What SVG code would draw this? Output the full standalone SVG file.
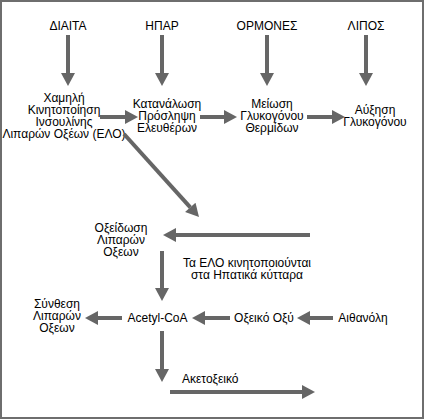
<svg xmlns="http://www.w3.org/2000/svg" width="425" height="420" viewBox="0 0 425 420">
<style>
text{font-family:"Liberation Sans",Arial,sans-serif;font-size:12px;fill:#000;text-anchor:middle}
.l{text-anchor:start}
.c line{stroke:#666;stroke-width:4;marker-end:url(#ah)}
</style>
<defs>
<marker id="ah" markerUnits="userSpaceOnUse" markerWidth="14" markerHeight="14" viewBox="0 0 13 14" refX="0" refY="7" orient="auto">
<path d="M0,0 L13,7 L0,14 z" fill="#666"/>
</marker>
</defs>
<rect x="1" y="1" width="422" height="417" fill="#fff" stroke="#6e6e6e" stroke-width="2"/>
<g id="diaita"><text x="68" y="30">ΔΙΑΙΤΑ</text></g>
<g id="ipar"><text x="162" y="30">ΗΠΑΡ</text></g>
<g id="ormones"><text x="267" y="30">ΟΡΜΟΝΕΣ</text></g>
<g id="lipos"><text x="366" y="30">ΛΙΠΟΣ</text></g>
<g id="xamili"><text x="64" y="102">Χαμηλή</text><text x="64" y="114">Κινητοποίηση</text><text x="64" y="126">Ινσουλίνης</text><text x="64" y="138">Λιπαρών Οξέων (ΕΛΟ)</text></g>
<g id="katanalosi"><text x="167" y="108">Κατανάλωση</text><text x="167" y="120">Πρόσληψη</text><text x="167" y="132">Ελευθέρων</text></g>
<g id="meiosi"><text x="272" y="108">Μείωση</text><text x="272" y="120">Γλυκογόνου</text><text x="272" y="132">Θερμίδων</text></g>
<g id="afxisi"><text x="375" y="114">Αύξηση</text><text x="375" y="126">Γλυκογόνου</text></g>
<g id="oxeidosi"><text x="121" y="232">Οξείδωση</text><text x="121" y="244">Λιπαρών</text><text x="121" y="256">Οξεων</text></g>
<g id="elo"><text x="247" y="267">Τα ΕΛΟ κινητοποιούνται</text><text x="247" y="279">στα Ηπατικά κύτταρα</text></g>
<g id="synthesi"><text x="57" y="308">Σύνθεση</text><text x="57" y="320">Λιπαρών</text><text x="57" y="332">Οξεων</text></g>
<g id="acetyl"><text x="157.5" y="322">Acetyl-CoA</text></g>
<g id="oxiko"><text x="264" y="322">Οξεικό Οξύ</text></g>
<g id="aithanoli"><text x="363" y="322">Αιθανόλη</text></g>
<g id="aketoxeiko"><text class="l" x="182" y="383">Ακετοξεικό</text></g>
<g id="connectors" class="c">
<line x1="68" y1="35" x2="68" y2="73"/>
<line x1="162" y1="35" x2="162" y2="73"/>
<line x1="267" y1="35" x2="267" y2="73"/>
<line x1="366" y1="35" x2="366" y2="73"/>
<line x1="100" y1="117" x2="125" y2="117"/>
<line x1="200" y1="117" x2="224" y2="117"/>
<line x1="307" y1="117" x2="332" y2="117"/>
<line x1="124" y1="134" x2="190.3" y2="207.4"/>
<line x1="310" y1="235" x2="176" y2="235"/>
<line x1="162" y1="251" x2="162" y2="288"/>
<line x1="122" y1="318" x2="98" y2="318"/>
<line x1="230" y1="318" x2="205" y2="318"/>
<line x1="333" y1="318" x2="310" y2="318"/>
<line x1="162" y1="331" x2="162" y2="369"/>
<line x1="170" y1="392" x2="302" y2="392"/>
</g>
</svg>
